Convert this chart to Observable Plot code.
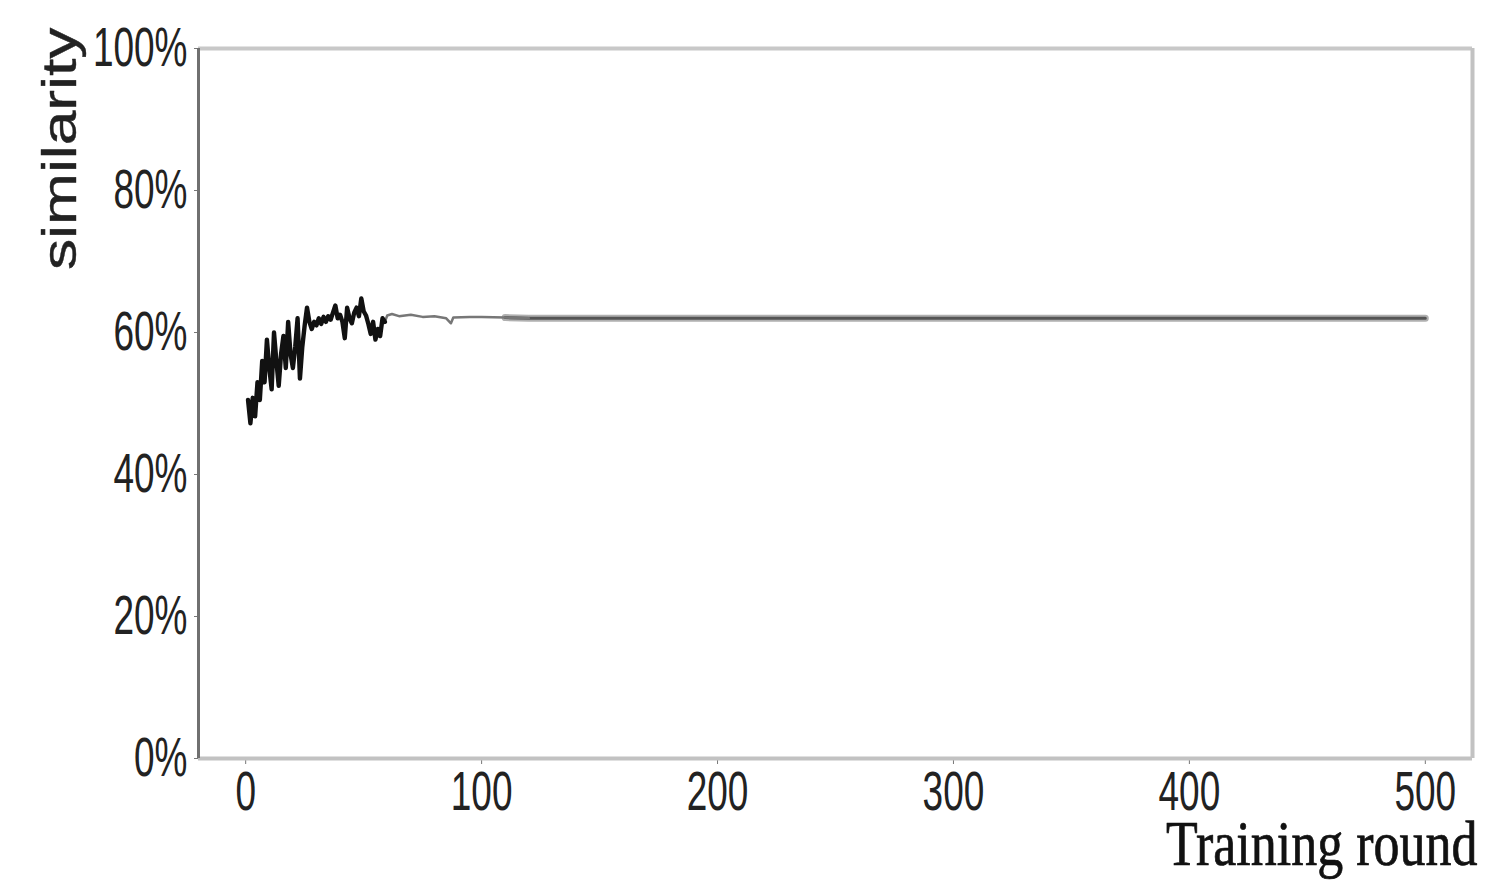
<!DOCTYPE html>
<html><head><meta charset="utf-8">
<script src="https://cdn.jsdelivr.net/npm/d3@7"></script>
<script src="https://cdn.jsdelivr.net/npm/@observablehq/plot@0.6"></script>
<style>body{margin:0;background:#fff;overflow:hidden}</style>
</head><body><div id="chart"></div>
<script>
// Training rounds and similarity (%)
const rounds = [1,2,3,4,5,6,7,8,9,10,11,12,13,14,15,16,17,18,19,20,
  21,22,23,24,25,26,27,28,29,30,31,32,33,34,35,36,37,38,39,40,
  41,42,43,44,45,46,47,48,49,50,51,52,53,54,55,56,57,58,59,60,
  62,65,70,75,80,85,87,88,95,100,110,120,500];
const similarity = [50.5,47.2,50.8,48.2,53,50.5,56,53,59,55,52,60,56,52.5,57,59.5,55,61.5,57,55,
  58,62,53.5,58,61,63.5,61.5,60.5,61.5,61,62,61.2,62.2,61.5,62.3,61.8,62.8,63.8,62,62.5,
  61.5,59.2,63.5,62,61.3,62.8,63.5,62.3,64.8,63,62.4,61.2,59.8,61.5,59,60.5,59.5,62,61.5,62.4,
  62.6,62.3,62.5,62.2,62.3,62.0,61.3,62.1,62.2,62.2,62.1,62.0,62.0];
const xTicks = [0,100,200,300,400,500];
const yTicks = [0,0.2,0.4,0.6,0.8,1];
const xLabel = "Training round";
const yLabel = "similarity";

const rows = rounds.map((r,i)=>({round:r, sim: similarity[i]/100}));
const noisy = rows.filter(d=>d.round<=59);
const settling = rows.filter(d=>d.round>=58 && d.round<=120);
const flat = rows.filter(d=>d.round>=110);

const chart = Plot.plot({
  width:1506, height:880,
  marginLeft:198, marginRight:34, marginTop:48, marginBottom:122,
  style:{fontFamily:"'Liberation Sans', Arial, sans-serif", background:"#fff"},
  x:{domain:[-20,520]},
  y:{domain:[0,1]},
  marks:[
    Plot.axisX(xTicks,{tickSize:6, tickPadding:6, fontSize:37, fill:"#222", stroke:"#777", label:null}),
    Plot.axisY(yTicks,{tickSize:4, tickPadding:7, fontSize:37, fill:"#222", stroke:"#777", label:null,
      tickFormat:d=>Math.round(d*100)+"%"}),
    Plot.ruleY([0],{stroke:"#c2c2c2", strokeWidth:4}),
    Plot.ruleY([1],{stroke:"#c8c8c8", strokeWidth:4}),
    Plot.ruleX([520],{stroke:"#c2c2c2", strokeWidth:4}),
    Plot.ruleX([-20],{stroke:"#707070", strokeWidth:3}),
    Plot.line(flat,{x:"round", y:"sim", stroke:"#b0b0b0", strokeWidth:7}),
    Plot.line(flat,{x:"round", y:"sim", stroke:"#555", strokeWidth:3}),
    Plot.line(settling,{x:"round", y:"sim", stroke:"#777", strokeWidth:2.5}),
    Plot.line(noisy,{x:"round", y:"sim", stroke:"#111", strokeWidth:4.4, strokeLinejoin:"round"}),
    Plot.text([xLabel],{frameAnchor:"bottom-right", textAnchor:"end", dx:5, dy:106,
      fontSize:52, fontFamily:"'Liberation Serif', 'Times New Roman', serif", fill:"#111",
      stroke:"#111", strokeWidth:0.6}),
    Plot.text([yLabel],{frameAnchor:"top-left", textAnchor:"end", rotate:-90, dx:-157, dy:-21,
      fontSize:48, fill:"#222", stroke:"#222", strokeWidth:0.4})
  ]
});
document.getElementById("chart").appendChild(chart);

function stretch(t, sx, sy){
  const tr = t.getAttribute("transform");
  if (tr) t.setAttribute("transform", tr + ` scale(${sx},${sy})`);
  else {
    const x = +t.getAttribute("x")||0, y = +t.getAttribute("y")||0;
    t.setAttribute("transform", `translate(${x},${y}) scale(${sx},${sy}) translate(${-x},${-y})`);
  }
}
chart.querySelectorAll('g[aria-label="x-axis tick label"] text, g[aria-label="y-axis tick label"] text')
  .forEach(t=>stretch(t,1,1.5));
chart.querySelectorAll('g[aria-label="text"] text').forEach(t=>{
  if (t.textContent===xLabel) stretch(t,1,1.2);
  else if (t.textContent===yLabel) stretch(t,1.3,1);
});
</script>
</body></html>
